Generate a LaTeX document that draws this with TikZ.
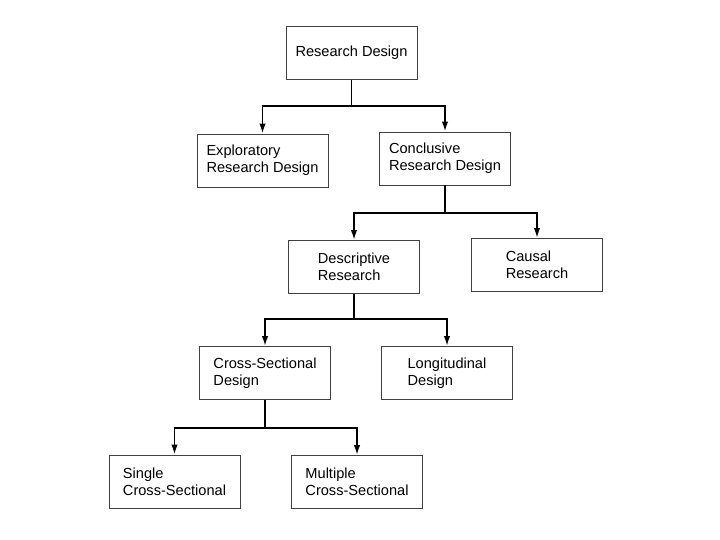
\documentclass[tikz,border=0pt]{standalone}
\usepackage{fontspec}
\setmainfont{Liberation Sans}
\usepackage{tikz}
\usetikzlibrary{arrows.meta}

\begin{document}
\begin{tikzpicture}[
        x=1pt, y=-1pt,
        box/.style={
            draw=black!75,
            line width=0.9pt,
            rectangle,
            minimum width=131pt,
            minimum height=53pt,
            align=left,
            font=\fontsize{14.6}{17}\selectfont
        },
        link/.style={
            line width=1.8pt
        },
        arrow/.style={
            link,
            -{Latex[length=10pt,width=6.5pt]}
        }
    ]

    \useasboundingbox (0,0) rectangle (720,540);

    \node[box] (design) at (351.5, 53) {Research Design};
    \node[box] (explor) at (262.5, 160.5) {Exploratory \\ Research Design};
    \node[box] (concl) at (445, 158.5) {Conclusive \\ Research Design};
    \node[box] (descr) at (354, 267) {Descriptive \\ Research};
    \node[box] (causal) at (537, 265) {Causal \\ Research};
    \node[box] (cross) at (265, 373) {Cross-Sectional \\ Design};
    \node[box] (longit) at (447, 373) {Longitudinal \\ Design};
    \node[box] (single) at (174.5, 481.5) {Single \\ Cross-Sectional};
    \node[box] (multi) at (357, 482) {Multiple \\ Cross-Sectional};

    \coordinate (j1) at (design.south |- 0,106);
    \coordinate (j2) at (concl.south |- 0,213);
    \coordinate (j3) at (descr.south |- 0,319);
    \coordinate (j4) at (cross.south |- 0,428);

    \draw[link] (design.south) -- (j1);
    \draw[arrow] (j1) -| (explor.north);
    \draw[arrow] (j1) -| (concl.north);

    \draw[link] (concl.south) -- (j2);
    \draw[arrow] (j2) -| (descr.north);
    \draw[arrow] (j2) -| (causal.north);

    \draw[link] (descr.south) -- (j3);
    \draw[arrow] (j3) -| (cross.north);
    \draw[arrow] (j3) -| (longit.north);

    \draw[link] (cross.south) -- (j4);
    \draw[arrow] (j4) -| (single.north);
    \draw[arrow] (j4) -| (multi.north);

\end{tikzpicture}
\end{document}
